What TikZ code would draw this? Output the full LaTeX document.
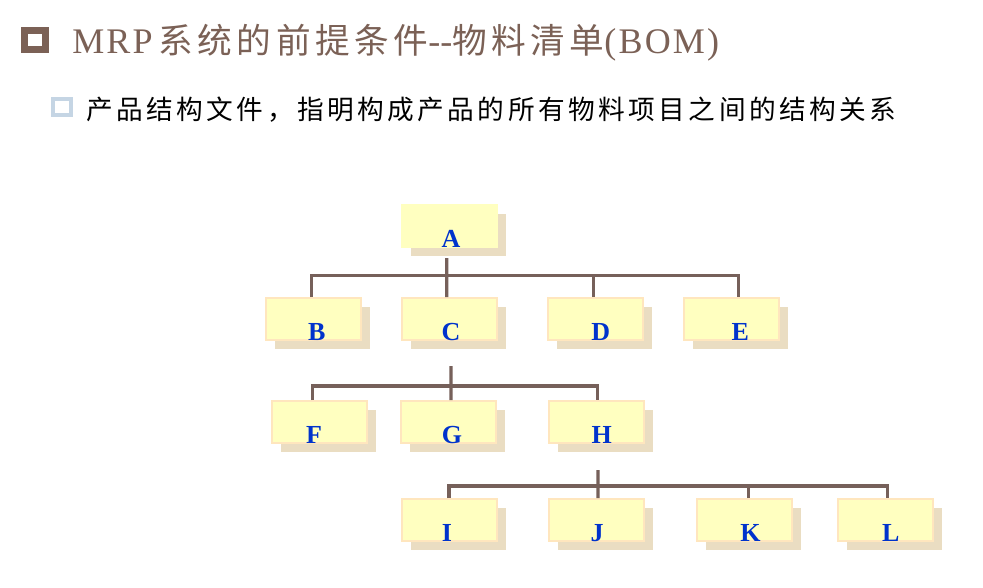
\documentclass[tikz,border=0pt]{standalone}
\usepackage{fontspec}
\setmainfont{Liberation Serif}
\newfontfamily\titlelat[LetterSpace=6]{Liberation Serif}
\newfontfamily\titlecjk[LetterSpace=13]{Noto Sans CJK SC}
\newfontfamily\subcjk[LetterSpace=13]{Noto Sans CJK SC}
\usetikzlibrary{shadows}
\definecolor{titlec}{RGB}{123,97,86}
\definecolor{linec}{RGB}{118,96,90}
\definecolor{boxfill}{RGB}{255,255,192}
\definecolor{boxline}{RGB}{255,230,190}
\definecolor{shadowc}{RGB}{234,221,194}
\definecolor{labc}{RGB}{0,51,204}
\definecolor{bulone}{RGB}{123,97,86}
\definecolor{bultwo}{RGB}{197,213,228}
\newcommand\lab[2]{\raisebox{-15.75pt}[0pt][0pt]{\makebox[0pt]{\hspace*{#1pt}#2}}}
\tikzset{
  box/.style={minimum width=71.25pt, minimum height=31.5pt, inner sep=0pt,
    fill=boxfill, draw=boxline, line width=1.5pt,
    drop shadow={shadow xshift=6.75pt, shadow yshift=-6.75pt, fill=shadowc, opacity=1},
    font=\fontsize{19.5pt}{20pt}\selectfont\bfseries, text=labc},
  topbox/.style={box, draw=boxfill},
  conn/.style={draw=linec, line width=2.4pt}
}
\begin{document}
\begin{tikzpicture}[x=0.75pt,y=-0.75pt]
\fill[white] (0,0) rectangle (983,587);
\useasboundingbox (0,0) rectangle (983,587);
% bullets
\draw[bulone, line width=5.25pt] (24.2,30.8) rectangle (45.5,49.8);
\draw[bultwo, line width=3pt] (53,99.3) rectangle (70.7,115.3);
% title
\node[anchor=base west, inner sep=0pt, text=titlec] (title) at (72,53.3)
  {\fontsize{27pt}{27pt}\selectfont\titlelat MRP\hspace{4.5pt}{\fontsize{26pt}{26pt}\titlecjk 系统的前提条件}\titlelat -\kern0pt-{\fontsize{26pt}{26pt}\titlecjk 物料清单}\titlelat (BOM)};
\node[anchor=west, inner sep=0pt] (sub) at (86,109.5)
  {\fontsize{20pt}{20pt}\subcjk 产品结构文件，指明构成产品的所有物料项目之间的结构关系};
% boxes
\node[topbox] (A) at (449.5,226) {\lab{2.25}{A}};
\node[box] (B) at (313.3,319.2) {\lab{5.1}{B}};
\node[box] (C) at (449,319.2) {\lab{3}{C}};
\node[box] (D) at (595.8,319.2) {\lab{7.5}{D}};
\node[box] (E) at (731.3,319.2) {\lab{13.5}{E}};
\node[box] (F) at (319,422) {\lab{-7.5}{F}};
\node[box] (G) at (448.9,422) {\lab{4.5}{G}};
\node[box] (H) at (596,422) {\lab{8.5}{H}};
\node[box] (I) at (449.5,520) {\lab{-3.75}{I}};
\node[box] (J) at (596.5,520) {\lab{0.75}{J}};
\node[box] (K) at (744.5,520) {\lab{9}{K}};
\node[box] (L) at (885.8,520) {\lab{7.5}{L}};
% connectors
\coordinate (busone) at (446.7,275.3);
\coordinate (bustwo) at (451,386);
\coordinate (cdown) at (451,366);
\coordinate (busthree) at (598,486);
\coordinate (hdown) at (598,470);
\draw[conn] ([xshift=-2.1pt,yshift=-7.5pt]A.south) -- ([xshift=-1.7pt]C.north);
\draw[conn] ([xshift=-1.2pt]B.north) |- (busone) -| ([xshift=5.25pt]E.north);
\draw[conn] ([xshift=-1.9pt]D.north) -- ++(0,-22);
\draw[conn] (cdown) -- ([xshift=1.6pt]G.north);
\draw[conn] ([xshift=-5pt]F.north) |- (bustwo) -| ([xshift=1pt]H.north);
\draw[conn] (hdown) -- ([xshift=1.1pt]J.north);
\draw[conn] ([xshift=-0.4pt]I.north) |- (busthree) -| ([xshift=1.5pt]L.north);
\draw[conn] ([xshift=2.9pt]K.north) -- ++(0,-12.5);
\end{tikzpicture}
\end{document}
